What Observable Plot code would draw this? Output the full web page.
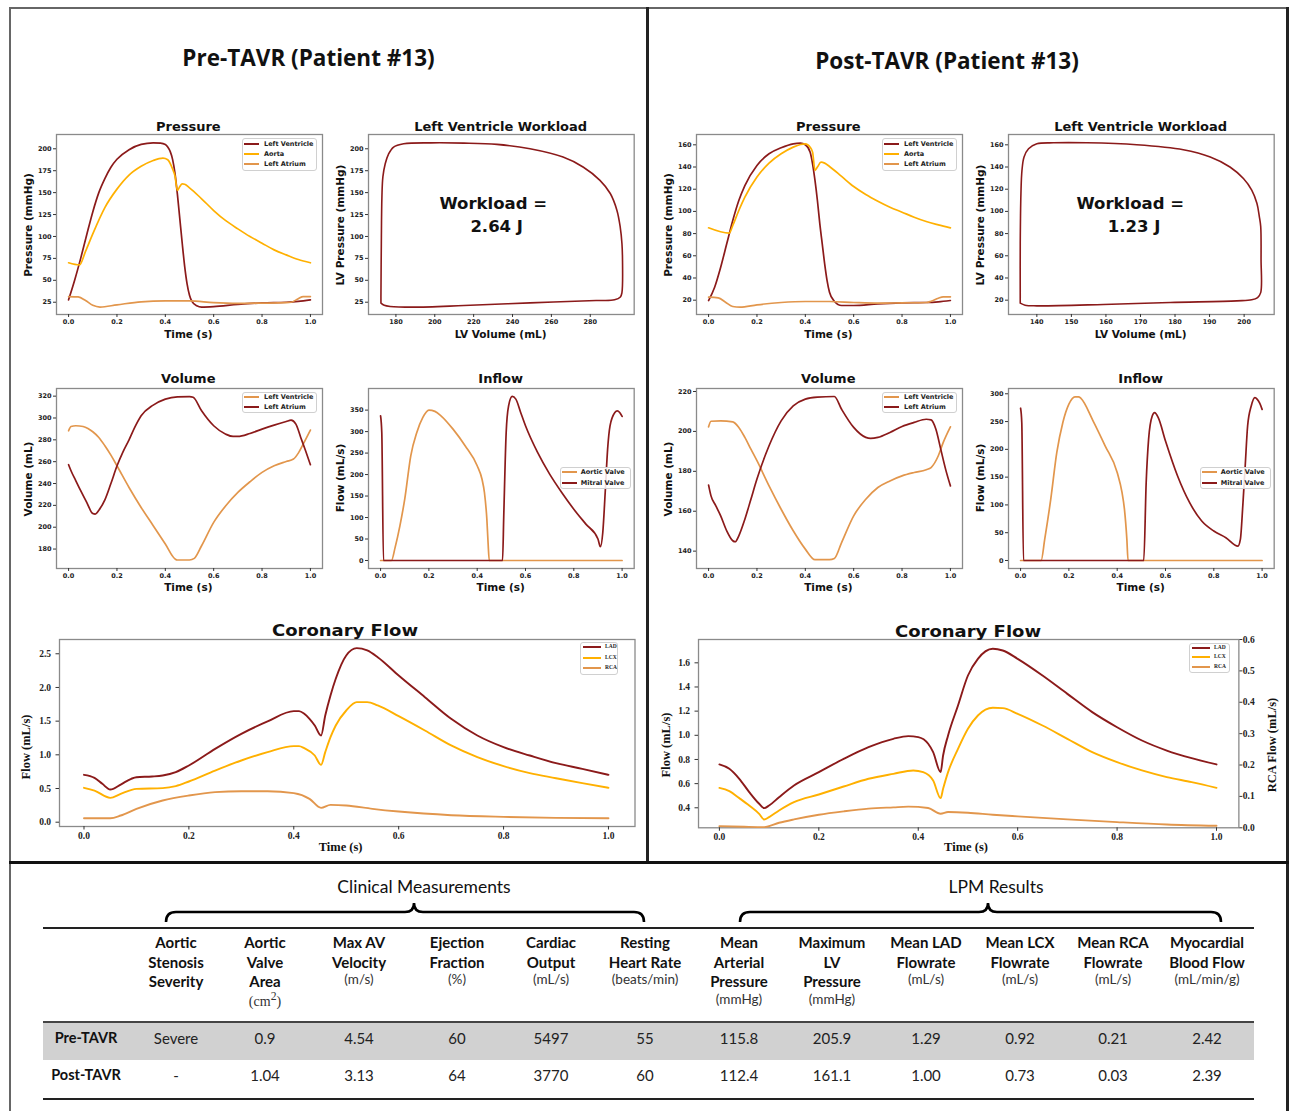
<!DOCTYPE html>
<html>
<head>
<meta charset="utf-8">
<script src="https://cdn.jsdelivr.net/npm/d3@7"></script>
<script src="https://cdn.jsdelivr.net/npm/@observablehq/plot@0.6"></script>
<style>
html,body{margin:0;padding:0;background:#fff;}
#root{position:relative;width:1295px;height:1111px;overflow:hidden;background:#fff;}
#root div.t{position:absolute;white-space:nowrap;line-height:1;}
</style>
</head>
<body>
<div id="root"></div>
<script>
// ---------------- DATA ----------------
// Pre-TAVR pressure (time s, mmHg)
const prePressLV = [[0,27.7],[0.025,50],[0.05,75],[0.075,102],[0.1,128],[0.125,150],[0.15,166],[0.175,179],[0.2,188],[0.25,199],[0.3,205],[0.35,206.8],[0.38,206.5],[0.4,205],[0.41,202],[0.42,197],[0.43,188],[0.44,172],[0.45,148],[0.46,120],[0.47,92],[0.48,66],[0.49,46],[0.5,33],[0.51,26],[0.53,21],[0.55,19.5],[0.6,20],[0.7,22.5],[0.8,24.3],[0.9,25],[0.95,26],[1,27.7]];
const prePressAorta = [[0,70],[0.045,67.5],[0.07,83],[0.1,103],[0.15,133],[0.2,154],[0.25,170],[0.3,180],[0.35,186.7],[0.39,189.3],[0.41,187.5],[0.43,177],[0.44,169],[0.45,152.5],[0.46,157],[0.47,160],[0.48,159.5],[0.5,155.5],[0.55,143],[0.6,129.6],[0.65,118],[0.7,108.7],[0.75,100],[0.8,92.3],[0.85,84.7],[0.9,79],[0.95,73.7],[1,70]];
const prePressLA = [[0,31.5],[0.04,31],[0.07,27],[0.1,21.5],[0.13,19.5],[0.2,22],[0.3,25.5],[0.4,26.5],[0.5,26.5],[0.6,24.5],[0.7,23.7],[0.8,24],[0.9,24.5],[0.92,25],[0.95,29],[0.97,31.5],[1,31.5]];
// Post-TAVR pressure
const postPressLV = [[0,19.7],[0.025,31.7],[0.05,49.7],[0.075,70.8],[0.1,91.8],[0.125,109.8],[0.15,123.3],[0.2,141.4],[0.25,151.9],[0.3,157.3],[0.35,160.9],[0.38,161.5],[0.4,160],[0.42,153.4],[0.43,142.9],[0.44,127.9],[0.45,109.8],[0.46,88.8],[0.47,70.8],[0.48,52.8],[0.49,37.7],[0.5,27.2],[0.52,19.1],[0.55,15.2],[0.6,15.2],[0.7,16.7],[0.8,17.6],[0.9,17.9],[0.95,18.5],[1,19.7]];
const postPressAorta = [[0,85.2],[0.085,80.4],[0.1,87.3],[0.125,100.8],[0.15,112.8],[0.2,130.9],[0.25,143.5],[0.3,151.9],[0.35,157.9],[0.38,160.3],[0.4,160.9],[0.42,157.9],[0.43,153.4],[0.44,137],[0.45,140],[0.465,144.4],[0.48,143.5],[0.5,140.5],[0.55,131.5],[0.6,122.4],[0.65,115.2],[0.7,109.2],[0.75,103.8],[0.8,99.3],[0.85,94.8],[0.9,90.9],[0.95,87.9],[1,85.2]];
const postPressLA = [[0,22.7],[0.04,22.1],[0.07,18.2],[0.1,14.3],[0.13,13.7],[0.2,15.8],[0.3,17.9],[0.4,18.8],[0.5,18.8],[0.6,17.9],[0.7,17.3],[0.8,17.6],[0.9,17.9],[0.92,19.1],[0.95,21.8],[0.97,23],[1,23]];
// LV pressure-volume loops (mL, mmHg)
const prePVLoop = [[172.3,24],[174,21.5],[177,20.2],[189,19.4],[215,21.2],[249,24.2],[283,26.9],[292.5,27.7],[295.5,31],[296.3,36],[296.6,72],[296.3,92],[295.4,111],[293.7,130],[290.3,149],[285,164],[276.5,179],[266,190.5],[249,200],[232,205],[215,206.5],[198,206.8],[184,205.7],[178.8,202],[176.2,194],[174.5,183],[173.3,168],[172.8,145],[172.5,92],[172.3,31],[172.3,24]];
const postPVLoop = [[135.2,17.3],[136.6,15.5],[140,14.9],[159.3,16.1],[178.6,17.9],[197.9,19.4],[202.2,20.3],[203.9,22.4],[204.8,26.8],[204.9,56.6],[204.8,86.4],[204.4,95.4],[203.7,107.3],[202.2,119.2],[199.8,129.6],[195.9,140],[190.2,149],[182.4,155.5],[168.9,160],[154.5,161.8],[144.8,161.8],[140,160.9],[137.6,156.4],[136.3,149],[135.7,137.1],[135.4,116.2],[135.2,71.5],[135.2,17.3]];
const workloadPre = "2.64 J";
const workloadPost = "1.23 J";
// Volume (time s, mL)
const preVolLV = [[0,288.3],[0.01,292.2],[0.03,292.9],[0.06,292.2],[0.08,290.4],[0.1,287.4],[0.125,282.2],[0.15,274.6],[0.175,266],[0.2,256.3],[0.25,236.4],[0.3,218.1],[0.35,201.4],[0.4,184.6],[0.44,171],[0.45,170],[0.5,170],[0.52,171.5],[0.55,183],[0.6,204.4],[0.65,219.7],[0.7,231.9],[0.75,241.6],[0.8,250.2],[0.85,256.3],[0.9,260.2],[0.93,262.4],[0.95,267.8],[0.97,276],[1,288.9]];
const preVolLA = [[0,257.2],[0.01,251.7],[0.03,242.5],[0.05,233.4],[0.075,222.7],[0.1,212.5],[0.11,212],[0.125,215.5],[0.15,225],[0.175,240],[0.2,256],[0.225,269],[0.25,280],[0.275,292],[0.3,302],[0.35,311.8],[0.4,317.3],[0.45,319.4],[0.5,319.6],[0.515,319],[0.55,306.6],[0.6,292.9],[0.65,285.2],[0.68,283.1],[0.7,283.1],[0.75,285.8],[0.8,289.8],[0.85,293.5],[0.9,296.8],[0.92,298],[0.94,294.4],[0.96,282.2],[0.98,270],[1,257.2]];
const postVolLV = [[0,202.3],[0.01,205.1],[0.05,205.3],[0.1,204.8],[0.125,202],[0.15,197],[0.175,191.1],[0.2,185.3],[0.25,172.7],[0.3,161],[0.35,150.2],[0.4,141],[0.44,135.7],[0.5,135.7],[0.52,136.3],[0.55,144.3],[0.6,157.7],[0.65,166],[0.7,171.9],[0.75,175.2],[0.8,177.7],[0.85,179.4],[0.9,180.8],[0.92,181.9],[0.95,187.8],[0.97,194.4],[1,202.3]];
const postVolLA = [[0,173.1],[0.01,167.7],[0.03,162.7],[0.05,157.7],[0.075,150.2],[0.1,145.2],[0.11,144.7],[0.125,147.7],[0.15,156],[0.175,166],[0.2,176.1],[0.25,192.8],[0.3,205.3],[0.35,212.8],[0.4,216.2],[0.45,217.2],[0.52,217.5],[0.55,211.1],[0.6,202],[0.65,197],[0.67,196.5],[0.7,197],[0.75,199.5],[0.8,202.5],[0.85,204.5],[0.9,206.1],[0.92,205.8],[0.94,201.1],[0.96,191.1],[0.98,181.1],[1,172.7]];
// Inflow (time s, mL/s)
const preFlowAV = [[0,0],[0.045,0],[0.06,30],[0.08,80.7],[0.1,142.8],[0.125,243.7],[0.15,298],[0.175,333],[0.2,350],[0.225,347],[0.25,336.8],[0.3,305.7],[0.35,267],[0.4,220.4],[0.42,189],[0.43,158.3],[0.44,96.2],[0.445,42],[0.45,0],[1,0]];
const preFlowMV = [[0,336.8],[0.005,298],[0.012,0],[0.505,0],[0.51,104],[0.52,298],[0.53,360],[0.545,381.8],[0.56,375.6],[0.58,344.5],[0.6,313.5],[0.65,251.4],[0.7,201],[0.75,158.3],[0.8,119.5],[0.85,84.6],[0.9,50],[0.91,32],[0.92,65.2],[0.93,158.3],[0.94,259.2],[0.95,313.5],[0.97,344.5],[0.98,348.4],[0.99,344.5],[1,335.2]];
const postFlowAV = [[0,0],[0.085,0],[0.1,38.4],[0.125,110.4],[0.15,194.4],[0.175,248.4],[0.2,281.4],[0.225,294.6],[0.24,294.6],[0.25,291.6],[0.3,251.4],[0.35,206.4],[0.4,158.4],[0.42,122.4],[0.43,92.4],[0.44,38.4],[0.445,0],[1,0]];
const postFlowMV = [[0,274],[0.005,248],[0.012,0],[0.51,0],[0.52,140],[0.53,218],[0.545,260],[0.555,266],[0.57,257],[0.6,215],[0.65,152],[0.7,104],[0.75,71],[0.8,53],[0.85,41],[0.9,26],[0.91,38],[0.92,98],[0.93,170],[0.94,242],[0.955,278],[0.97,293],[0.98,290],[0.99,283],[1,272]];
// Coronary flow (time s, mL/s)
const preLAD = [[0,0.703],[0.02,0.658],[0.035,0.569],[0.05,0.485],[0.07,0.559],[0.09,0.644],[0.1,0.668],[0.13,0.678],[0.15,0.693],[0.175,0.743],[0.2,0.842],[0.25,1.089],[0.3,1.312],[0.35,1.495],[0.4,1.648],[0.41,1.648],[0.42,1.609],[0.43,1.535],[0.44,1.436],[0.452,1.287],[0.46,1.584],[0.47,1.881],[0.48,2.129],[0.5,2.475],[0.52,2.584],[0.54,2.549],[0.56,2.45],[0.6,2.178],[0.65,1.856],[0.7,1.535],[0.75,1.287],[0.8,1.114],[0.85,0.99],[0.9,0.876],[0.95,0.792],[1,0.703]];
const preLCX = [[0,0.51],[0.02,0.47],[0.05,0.361],[0.07,0.421],[0.1,0.495],[0.15,0.505],[0.175,0.535],[0.2,0.604],[0.25,0.767],[0.3,0.916],[0.35,1.04],[0.4,1.129],[0.41,1.129],[0.42,1.099],[0.44,0.99],[0.452,0.851],[0.46,1.04],[0.47,1.262],[0.48,1.436],[0.5,1.658],[0.52,1.782],[0.54,1.782],[0.56,1.733],[0.6,1.574],[0.65,1.361],[0.7,1.139],[0.75,0.965],[0.8,0.832],[0.85,0.728],[0.9,0.653],[0.95,0.579],[1,0.51]];
const preRCA = [[0,0.059],[0.05,0.059],[0.07,0.099],[0.1,0.198],[0.15,0.322],[0.2,0.396],[0.25,0.446],[0.3,0.46],[0.35,0.46],[0.4,0.431],[0.43,0.347],[0.452,0.213],[0.47,0.257],[0.5,0.248],[0.55,0.198],[0.6,0.158],[0.7,0.104],[0.8,0.079],[0.9,0.064],[1,0.059]];
const postLAD = [[0,0.759],[0.02,0.723],[0.04,0.64],[0.06,0.53],[0.08,0.433],[0.09,0.397],[0.1,0.419],[0.12,0.488],[0.15,0.585],[0.2,0.695],[0.25,0.805],[0.3,0.902],[0.35,0.971],[0.38,0.993],[0.4,0.985],[0.42,0.93],[0.43,0.861],[0.445,0.695],[0.45,0.833],[0.46,0.999],[0.48,1.247],[0.5,1.495],[0.52,1.633],[0.55,1.716],[0.57,1.702],[0.6,1.633],[0.65,1.495],[0.7,1.343],[0.75,1.192],[0.8,1.067],[0.85,0.957],[0.9,0.874],[0.95,0.811],[1,0.759]];
const postLCX = [[0,0.565],[0.02,0.538],[0.04,0.48],[0.06,0.419],[0.08,0.35],[0.09,0.303],[0.1,0.323],[0.12,0.378],[0.15,0.447],[0.2,0.51],[0.25,0.576],[0.3,0.64],[0.35,0.681],[0.39,0.709],[0.41,0.695],[0.43,0.626],[0.445,0.48],[0.45,0.557],[0.46,0.695],[0.48,0.888],[0.5,1.054],[0.52,1.164],[0.55,1.228],[0.57,1.225],[0.6,1.178],[0.65,1.081],[0.7,0.971],[0.75,0.861],[0.8,0.778],[0.85,0.709],[0.9,0.654],[0.95,0.612],[1,0.565]];
const postRCA = [[0,0.0053],[0.05,0.0032],[0.09,0.0021],[0.12,0.016],[0.15,0.0267],[0.2,0.0416],[0.25,0.0523],[0.3,0.0609],[0.35,0.0651],[0.38,0.0673],[0.42,0.063],[0.445,0.0448],[0.46,0.0502],[0.5,0.048],[0.55,0.0416],[0.6,0.0363],[0.7,0.0267],[0.8,0.0181],[0.9,0.0107],[1,0.0064]];
// Legend labels
const pressureLabels = ["Left Ventricle","Aorta","Left Atrium"];
const volumeLabels = ["Left Ventricle","Left Atrium"];
const inflowLabels = ["Aortic Valve","Mitral Valve"];
const coronaryLabels = ["LAD","LCX","RCA"];
// Tick values
const timeTicks = [0,0.2,0.4,0.6,0.8,1.0];
const prePressTicks = [25,50,75,100,125,150,175,200];
const postPressTicks = [20,40,60,80,100,120,140,160];
const preVolTicksX = [180,200,220,240,260,280];
const postVolTicksX = [140,150,160,170,180,190,200];
const preVolTicksY = [180,200,220,240,260,280,300,320];
const postVolTicksY = [140,160,180,200,220];
const preFlowTicks = [0,50,100,150,200,250,300,350];
const postFlowTicks = [0,50,100,150,200,250,300];
const preCorTicks = [0,0.5,1.0,1.5,2.0,2.5];
const postCorTicks = [0.4,0.6,0.8,1.0,1.2,1.4,1.6];
const postRcaTicks = [0,0.1,0.2,0.3,0.4,0.5,0.6];
// Table
const tableHeaders = [["Aortic","Stenosis","Severity"],["Aortic","Valve","Area"],["Max AV","Velocity"],["Ejection","Fraction"],["Cardiac","Output"],["Resting","Heart Rate"],["Mean","Arterial","Pressure"],["Maximum","LV","Pressure"],["Mean LAD","Flowrate"],["Mean LCX","Flowrate"],["Mean RCA","Flowrate"],["Myocardial","Blood Flow"]];
const tableUnits = ["","(cm<sup>2</sup>)","(m/s)","(%)","(mL/s)","(beats/min)","(mmHg)","(mmHg)","(mL/s)","(mL/s)","(mL/s)","(mL/min/g)"];
const rowLabels = ["Pre-TAVR","Post-TAVR"];
const preValues = ["Severe","0.9","4.54","60","5497","55","115.8","205.9","1.29","0.92","0.21","2.42"];
const postValues = ["-","1.04","3.13","64","3770","60","112.4","161.1","1.00","0.73","0.03","2.39"];

// ---------------- DRAWING ----------------
const root = document.getElementById("root");
const DR="#8b1a1a", OR="#ffb000", LO="#e2964c";
const SANS='"DejaVu Sans", sans-serif', SERIF='"Liberation Serif", "DejaVu Serif", serif', TF='Lato, "Open Sans", sans-serif', OS='"Open Sans", Lato, sans-serif';

function txt(html, cx, cy, o={}) {
  const d=document.createElement("div"); d.className="t";
  d.innerHTML=html;
  const tr=[`translate(${o.anchor==="start"?"0":"-50%"},-50%)`];
  if(o.rotate) tr.push("rotate(-90deg)");
  if(o.sx) tr.push(`scaleX(${o.sx})`);
  d.style.left=cx+"px"; d.style.top=cy+"px";
  d.style.fontFamily=o.family||SANS; d.style.fontSize=(o.size||10)+"px";
  d.style.fontWeight=o.weight||"bold"; d.style.color=o.color||"#111";
  d.style.transform=tr.join(" ");
  root.appendChild(d); return d;
}
function rect(x,y,w,h,style){const d=document.createElement("div");d.style.cssText=`position:absolute;left:${x}px;top:${y}px;width:${w}px;height:${h}px;${style||""}`;root.appendChild(d);return d;}

function chart(c){
  const [x0,y0,x1,y1]=c.frame;
  const m={l:50,r:40,t:8,b:28};
  const W=x1-x0+m.l+m.r, H=y1-y0+m.t+m.b;
  const ts=c.tickSize??3, tp=c.tickPadding??2;
  const marks=[];
  if(c.showFrame!==false) marks.push(Plot.frame({stroke:"#8a8a8a",strokeWidth:1.3}));
  if(c.xTicks) marks.push(Plot.axisX({ticks:c.xTicks,tickSize:ts,tickPadding:c.xPad??tp,tickFormat:c.xFmt,label:null,stroke:"#333"}));
  if(c.yTicks) marks.push(Plot.axisY({ticks:c.yTicks,anchor:c.yAnchor||"left",tickSize:ts,tickPadding:c.yPad??tp,tickFormat:c.yFmt,label:null,stroke:"#333"}));
  for(const s of c.lines) marks.push(Plot.line(s.data,{x:d=>d[0],y:d=>d[1],stroke:s.color,strokeWidth:s.width||1.7,curve:s.curve||"monotone-x"}));
  const svg=Plot.plot({width:W,height:H,marginLeft:m.l,marginRight:m.r,marginTop:m.t,marginBottom:m.b,
    x:c.xTicks?{domain:c.xDomain}:{domain:c.xDomain,axis:null},
    y:c.yTicks?{domain:c.yDomain}:{domain:c.yDomain,axis:null},
    style:{background:"transparent",fontFamily:c.family||SANS,fontSize:(c.fontSize||6.5)+"px",fontWeight:"bold",color:"#222",overflow:"visible"},
    marks});
  svg.style.position="absolute"; svg.style.left=(x0-m.l)+"px"; svg.style.top=(y0-m.t)+"px"; svg.style.maxWidth="none";
  root.appendChild(svg);
}
function legend(box, labels, colors, ys, o){
  const [x,y,w,h]=box;
  rect(x,y,w,h,"border:1px solid #d0d0d0;border-radius:3px;background:rgba(255,255,255,0.85);box-sizing:border-box;");
  labels.forEach((lab,i)=>{
    rect(o.sx0, ys[i]-1, o.sx1-o.sx0, 2, `background:${colors[i]};`);
    txt(lab, o.tx, ys[i], {anchor:"start", family:o.family||SANS, size:o.size||6.5, weight:"bold", color:"#222"});
  });
}

// frame lines of the composite figure
rect(9,7,1280,2,"background:#666");
rect(9,7,2,1104,"background:#666");
rect(1286,7,3,1104,"background:#222");
rect(646,7,3,856,"background:#222");
rect(9,861,1280,3,"background:#111");

// panel titles
txt("Pre-TAVR (Patient #13)",308.5,58,{family:OS,size:22.5,weight:"bold"});
txt("Post-TAVR (Patient #13)",947,61,{family:OS,size:22.5,weight:"bold"});

const panels=[
  {ox:0, press:[prePressLV,prePressAorta,prePressLA], pDom:[11,216.3], pT:prePressTicks, loop:prePVLoop, lDom:[165.9,302.6], lT:preVolTicksX,
   vol:[preVolLV,preVolLA], vDom:[162.2,327], vT:preVolTicksY, flow:[preFlowAV,preFlowMV], fDom:[-18.6,400.3], fT:preFlowTicks, work:workloadPre, wx:[493.3,496.7]},
  {ox:640, press:[postPressLV,postPressAorta,postPressLA], pDom:[7.1,169.3], pT:postPressTicks, loop:postPVLoop, lDom:[131.8,208.7], lT:postVolTicksX,
   vol:[postVolLV,postVolLA], vDom:[131.3,221.5], vT:postVolTicksY, flow:[postFlowAV,postFlowMV], fDom:[-14.4,309.5], fT:postFlowTicks, work:workloadPost, wx:[490.3,494]}
];
for(const p of panels){
  const ox=p.ox;
  chart({frame:[55.7+ox,134,321.7+ox,314],xDomain:[-0.05,1.05],yDomain:p.pDom,xTicks:timeTicks,xFmt:".1f",yTicks:p.pT,
    lines:[{data:p.press[0],color:DR},{data:p.press[1],color:OR},{data:p.press[2],color:LO}]});
  chart({frame:[368.3+ox,134,634+ox,314],xDomain:p.lDom,yDomain:p.pDom,xTicks:p.lT,yTicks:p.pT,
    lines:[{data:p.loop,color:DR,curve:"catmull-rom",width:1.6}]});
  chart({frame:[55.7+ox,387.7,321.7+ox,567.7],xDomain:[-0.05,1.05],yDomain:p.vDom,xTicks:timeTicks,xFmt:".1f",yTicks:p.vT,
    lines:[{data:p.vol[0],color:LO},{data:p.vol[1],color:DR}]});
  chart({frame:[368.3+ox,387.7,634+ox,567.7],xDomain:[-0.05,1.05],yDomain:p.fDom,xTicks:timeTicks,xFmt:".1f",yTicks:p.fT,
    lines:[{data:p.flow[0],color:LO},{data:p.flow[1],color:DR}]});
  txt("Pressure",188.3+ox,125.7,{size:13});
  txt("Left Ventricle Workload",500.7+ox,125.7,{size:13});
  txt("Volume",188.3+ox,378.3,{size:13});
  txt("Inflow",500.7+ox,378.3,{size:13});
  txt("Pressure (mmHg)",28.3+ox,225,{size:10.5,rotate:true});
  txt("LV Pressure (mmHg)",340+ox,225,{size:10.5,rotate:true});
  txt("Volume (mL)",28.3+ox,479,{size:10.5,rotate:true});
  txt("Flow (mL/s)",340+ox,478,{size:10.5,rotate:true});
  txt("Time (s)",188.3+ox,334,{size:10.5});
  txt("LV Volume (mL)",500.7+ox,334,{size:10.5});
  txt("Time (s)",188.3+ox,586.7,{size:10.5});
  txt("Time (s)",500.7+ox,586.7,{size:10.5});
  txt("Workload =",p.wx[0]+ox,203.5,{size:16.5});
  txt(p.work,p.wx[1]+ox,226.7,{size:16.5});
  legend([242.3+ox,138,75,33],pressureLabels,[DR,OR,LO],[143.7,153.7,164],{sx0:244.3+ox,sx1:259.3+ox,tx:264+ox});
  legend([242.3+ox,391.7,75,21.6],volumeLabels,[LO,DR],[396.7,407],{sx0:244.3+ox,sx1:259.3+ox,tx:264+ox});
  legend([560+ox,467,70.7,22],inflowLabels,[LO,DR],[472.3,482.7],{sx0:562.3+ox,sx1:576.7+ox,tx:580.7+ox});
}

// Coronary flow, pre
chart({frame:[59,639,634.5,826],xDomain:[-0.0467,1.0506],yDomain:[-0.064,2.712],xTicks:timeTicks,xFmt:".1f",yTicks:preCorTicks,yFmt:".1f",
  family:SERIF,fontSize:9.5,tickSize:3.5,xPad:2,yPad:5,
  lines:[{data:preLAD,color:DR,width:1.9},{data:preLCX,color:OR,width:1.9},{data:preRCA,color:LO,width:1.9}]});
txt("Coronary Flow",344.7,630.7,{size:15,sx:1.2});
txt("Flow (mL/s)",25.5,747,{family:SERIF,size:12.5,rotate:true});
txt("Time (s)",340.6,847,{family:SERIF,size:12.5});
legend([580,642,38,33],coronaryLabels,[DR,OR,LO],[647.3,657.7,668.3],{sx0:582.7,sx1:600.6,tx:605,family:SERIF,size:5.5});

// Coronary flow, post (twin axes)
chart({frame:[698.2,639,1238.6,827.3],xDomain:[-0.042,1.045],yDomain:[0.2345,1.793],xTicks:timeTicks,xFmt:".1f",yTicks:postCorTicks,yFmt:".1f",
  family:SERIF,fontSize:9.5,tickSize:3.5,xPad:2,yPad:5,
  lines:[{data:postLAD,color:DR,width:1.9},{data:postLCX,color:OR,width:1.9}]});
chart({frame:[698.2,639,1238.6,827.3],xDomain:[-0.042,1.045],yDomain:[0,0.6],showFrame:false,xTicks:null,yTicks:postRcaTicks,yFmt:".1f",yAnchor:"right",
  family:SERIF,fontSize:9.5,tickSize:3,yPad:1,
  lines:[{data:postRCA,color:LO,width:1.9}]});
txt("Coronary Flow",968.4,631.7,{size:15,sx:1.2});
txt("Flow (mL/s)",665.5,745,{family:SERIF,size:12.5,rotate:true});
txt("RCA Flow (mL/s)",1272,745,{family:SERIF,size:12.5,rotate:true});
txt("Time (s)",966,847,{family:SERIF,size:12.5});
legend([1188.8,643,40.8,30],coronaryLabels,[DR,OR,LO],[647.7,657.3,667.3],{sx0:1192,sx1:1210,tx:1214,family:SERIF,size:5.5});

// ---------------- TABLE ----------------
const colX=[176,265,359,457,551,645,739,832,926,1020,1113,1207];
txt("Clinical Measurements",424,887,{family:TF,size:17.5,weight:"normal",color:"#111"});
txt("LPM Results",996,887,{family:TF,size:17.5,weight:"normal",color:"#111"});
const braceSvg=d3.select(root).append("svg").attr("width",1295).attr("height",1111).style("position","absolute").style("left","0px").style("top","0px").style("pointer-events","none");
function brace(xa,xc,xb){
  const y0=922,y1=912,y2=903;
  braceSvg.append("path").attr("d",`M${xa},${y0} Q${xa},${y1} ${xa+10},${y1} L${xc-9},${y1} Q${xc},${y1} ${xc},${y2} Q${xc},${y1} ${xc+9},${y1} L${xb-10},${y1} Q${xb},${y1} ${xb},${y0}`)
    .attr("fill","none").attr("stroke","#000").attr("stroke-width",2.6);
}
brace(166,414,644);
brace(740,988,1221);
rect(43,1022,1211,38,"background:#d1d1d1");
rect(43,927,1211,2,"background:#222");
rect(43,1020.5,1211,2,"background:#444");
rect(43,1098,1211,2,"background:#222");
tableHeaders.forEach((lines,i)=>{
  lines.forEach((s,j)=>txt(s,colX[i],942+j*19.5,{family:TF,size:15,weight:"bold",color:"#111"}));
  if(tableUnits[i]) txt(tableUnits[i],colX[i],942+lines.length*19.2,{family:i===1?SERIF:TF,size:i===1?14:13.5,weight:"normal",color:"#333"});
});
txt(rowLabels[0],86,1037.7,{family:TF,size:14.5,weight:"bold"});
txt(rowLabels[1],86,1075.3,{family:TF,size:14.5,weight:"bold"});
preValues.forEach((v,i)=>txt(v,colX[i],1037.7,{family:TF,size:15,weight:"normal",color:"#222"}));
postValues.forEach((v,i)=>txt(v,colX[i],1075.3,{family:TF,size:15,weight:"normal",color:"#222"}));
</script>
</body>
</html>
